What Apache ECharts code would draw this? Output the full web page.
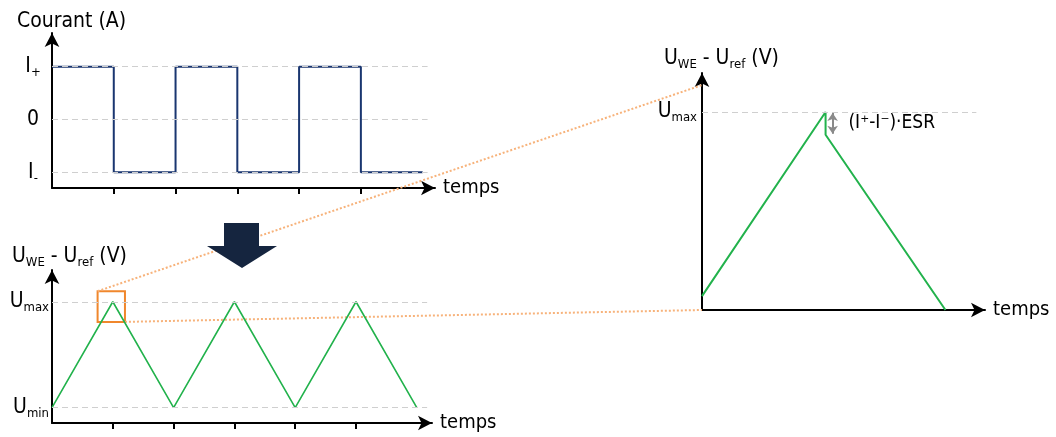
<!DOCTYPE html>
<html>
<head>
<meta charset="utf-8">
<script src="https://cdn.jsdelivr.net/npm/echarts@6/dist/echarts.min.js"></script>
<style>
html, body { margin: 0; background: #fff; }
#chart { width: 1056px; height: 437px; }
</style>
</head>
<body>
<div id="chart"></div>
<script>
// courant : créneaux
const currentT = [0, 1, 1, 2, 2, 3, 3, 4, 4, 5, 5, 6];
const currentI = [1, 1, -1, -1, 1, 1, -1, -1, 1, 1, -1, -1];
const currentLevels = [1, 0, -1];
const currentLabels = ['{m|I}{s|+}', '{m|0}', '{m|I}{s|-}'];

// tension : triangles
const voltT = [0, 1, 2, 3, 4, 5, 6];
const voltU = [0, 1, 0, 1, 0, 1, 0];
const voltLevels = [1, 0];
const voltLabels = ['{m|U}{s|max}', '{m|U}{s|min}'];

// zoom sur un pic (chute ohmique)
const zoomT = [0, 1, 1, 1.97];
const zoomU = [0.07, 1, 0.885, 0];
const zoomLevels = [1];
const zoomLabels = ['{m|U}{s|max}'];
const esrDrop = [1, 0.885];

const tickT = [1, 2, 3, 4, 5];

const FONT = '"DejaVu Sans Condensed", "DejaVu Sans"';
const INK = '#000';
const rich = {
	m: { fontSize: 21, fontFamily: FONT, fontWeight: 'normal', color: INK, lineHeight: 24 },
	s: { fontSize: 13, fontFamily: FONT, fontWeight: 'normal', color: INK, lineHeight: 13, padding: [12, 0, 0, 0] },
};
const gridLine = { type: [6, 4], color: '#cfcfcf', width: 1 };

const axisLineArrow = {
	show: true,
	onZero: false,
	symbol: ['none', 'arrow'],
	symbolSize: [11, 14],
	lineStyle: { color: '#000', width: 2 },
};

const xAxisOf = (gridIndex, max, ticks) => ({
	type: 'value',
	gridIndex: gridIndex,
	min: 0,
	max: max,
	name: 'temps',
	nameLocation: 'end',
	nameGap: 8,
	nameTextStyle: { fontSize: 20, fontFamily: FONT, color: INK },
	axisLine: axisLineArrow,
	axisTick: ticks
		? { show: true, customValues: ticks, length: 6, lineStyle: { color: '#000', width: 2 } }
		: { show: false },
	axisLabel: { show: false },
	splitLine: { show: false },
});

const yAxisOf = (gridIndex, min, max, values, labels, align, margin) => ({
	type: 'value',
	gridIndex: gridIndex,
	min: min,
	max: max,
	axisLine: axisLineArrow,
	axisTick: { show: false },
	splitLine: { show: false },
	axisLabel: {
		show: true,
		customValues: values,
		align: align,
		margin: margin,
		formatter: (v) => labels[values.indexOf(v)],
		rich: rich,
	},
});

// lignes pointillées horizontales, dans une série à part sous les courbes
const guideSeries = (idx, levels, xEnd) => ({
	type: 'line',
	xAxisIndex: idx,
	yAxisIndex: idx,
	data: [],
	z: 1,
	markLine: {
		silent: true,
		symbol: 'none',
		label: { show: false },
		lineStyle: gridLine,
		data: levels.map((v) => [{ coord: [0, v] }, { coord: [xEnd, v] }]),
	},
});

const option = {
	animation: false,
	title: [
		{ text: 'Courant (A)', left: 12, top: 6, textStyle: { fontSize: 21, fontWeight: 'normal', fontFamily: FONT, color: INK } },
		{ text: '{m|U}{s|WE}{m| - U}{s|ref}{m| (V)}', left: 7, top: 240, textStyle: { fontWeight: 'normal', rich: rich } },
		{ text: '{m|U}{s|WE}{m| - U}{s|ref}{m| (V)}', left: 659, top: 42, textStyle: { fontWeight: 'normal', rich: rich } },
	],
	grid: [
		{ left: 52, top: 33, right: 621, bottom: 249 },
		{ left: 52, top: 270, right: 624, bottom: 14 },
		{ left: 702, top: 73, right: 71, bottom: 127 },
	],
	xAxis: [
		xAxisOf(0, 6.2, tickT),
		xAxisOf(1, 6.25, tickT),
		xAxisOf(2, 2.29, null),
	],
	yAxis: [
		yAxisOf(0, -1.3, 1.64, currentLevels, currentLabels, 'center', 19),
		yAxisOf(1, -0.145, 1.3, voltLevels, voltLabels, 'right', 3),
		yAxisOf(2, 0, 1.197, zoomLevels, zoomLabels, 'right', 5),
	],
	series: [
		guideSeries(0, currentLevels, 6.08),
		guideSeries(1, voltLevels, 6.17),
		guideSeries(2, zoomLevels, 2.22),
		{
			type: 'line',
			xAxisIndex: 0,
			yAxisIndex: 0,
			data: currentT.map((t, i) => [t, currentI[i]]),
			showSymbol: false,
			lineStyle: { color: '#1a3670', width: 2 },
			z: 3,
		},
		{
			type: 'line',
			xAxisIndex: 1,
			yAxisIndex: 1,
			data: voltT.map((t, i) => [t, voltU[i]]),
			showSymbol: false,
			lineStyle: { color: '#22b24c', width: 1.6 },
			markArea: {
				silent: true,
				itemStyle: { color: 'rgba(0,0,0,0)', borderColor: '#f0872c', borderWidth: 2 },
				data: [[{ coord: [0.75, 1.1] }, { coord: [1.2, 0.81] }]],
			},
			z: 3,
		},
		{
			type: 'line',
			xAxisIndex: 2,
			yAxisIndex: 2,
			data: zoomT.map((t, i) => [t, zoomU[i]]),
			showSymbol: false,
			lineStyle: { color: '#22b24c', width: 2 },
			z: 3,
		},
		{
			// flèche de la chute ohmique
			type: 'line',
			xAxisIndex: 2,
			yAxisIndex: 2,
			data: [],
			markLine: {
				silent: true,
				symbol: ['arrow', 'arrow'],
				symbolSize: [8, 8],
				label: { show: false },
				lineStyle: { type: 'solid', color: '#8a8a8a', width: 2 },
				data: [[{ coord: [1.057, esrDrop[0] - 0.005] }, { coord: [1.057, esrDrop[1] + 0.005] }]],
			},
		},
		{
			type: 'scatter',
			xAxisIndex: 2,
			yAxisIndex: 2,
			symbolSize: 0,
			silent: true,
			data: [[1.185, (esrDrop[0] + esrDrop[1]) / 2]],
			itemStyle: { color: INK, opacity: 1 },
			label: {
				show: true,
				position: 'right',
				distance: 0,
				formatter: '(I⁺-I⁻)·ESR',
				fontSize: 19,
				fontFamily: FONT,
				color: INK,
			},
		},
	],
};

const chart = echarts.init(document.getElementById('chart'), null, { renderer: 'canvas' });
chart.setOption(option);

// liaisons pointillées entre la loupe et le zoom
const p1 = chart.convertToPixel({ gridIndex: 1 }, [0.75, 1.1]);
const p2 = chart.convertToPixel({ gridIndex: 1 }, [1.2, 0.81]);
const q1 = chart.convertToPixel({ gridIndex: 2 }, [0, 1.136]);
const q2 = chart.convertToPixel({ gridIndex: 2 }, [0, 0]);
const dotted = { stroke: '#f7b27a', lineWidth: 2, lineDash: [2, 2] };

chart.setOption({
	graphic: [
		{ type: 'line', z: 1, shape: { x1: p1[0], y1: p1[1], x2: q1[0], y2: q1[1] }, style: dotted, silent: true },
		{ type: 'line', z: 1, shape: { x1: p2[0], y1: p2[1], x2: q2[0], y2: q2[1] }, style: dotted, silent: true },
		{
			// grosse flèche vers le bas
			type: 'polygon',
			z: 5,
			shape: { points: [[224, 223], [259, 223], [259, 246], [277, 246], [242, 268], [207, 246], [224, 246]] },
			style: { fill: '#15253f' },
			silent: true,
		},
	],
});
</script>
</body>
</html>
